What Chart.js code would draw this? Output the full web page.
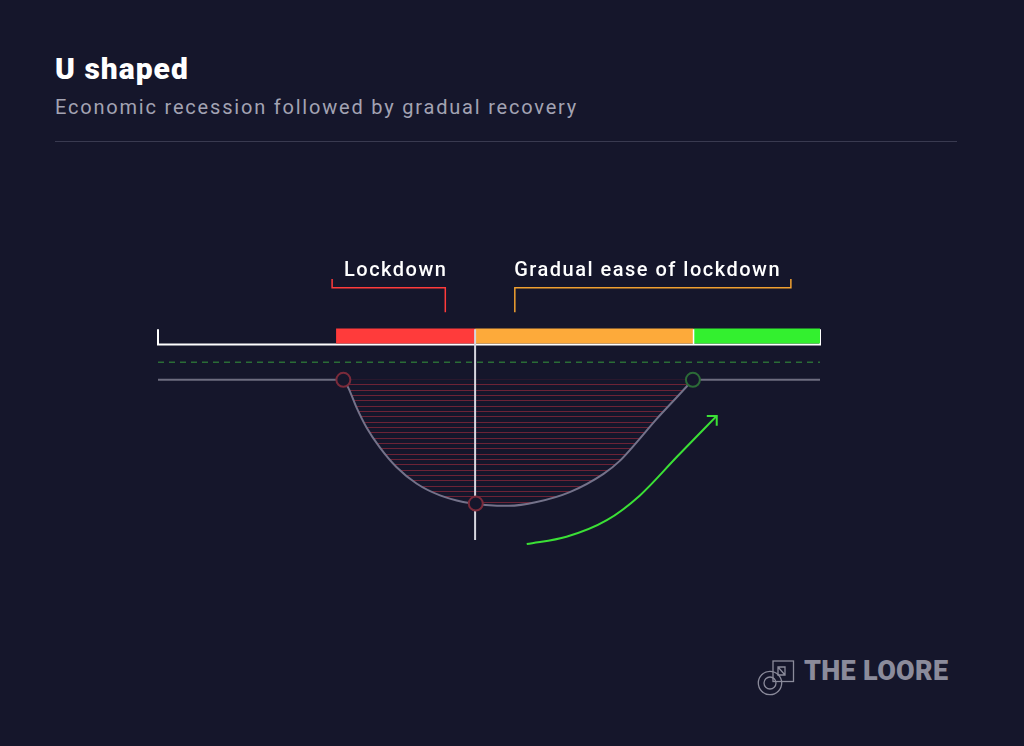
<!DOCTYPE html>
<html>
<head>
<meta charset="utf-8">
<title>U shaped</title>
<script src="https://cdn.jsdelivr.net/npm/chart.js@4.4.0/dist/chart.umd.min.js"></script>
<style>
    html, body { margin: 0; padding: 0; }
    body {
        width: 1024px; height: 746px; overflow: hidden; position: relative;
        background: #15162b; font-family: Roboto, "Liberation Sans", sans-serif;
    }
    .title { position: absolute; left: 55px; top: 54px; font: 900 30px/1 Roboto, sans-serif; letter-spacing: 1px; color: #ffffff; }
    .subtitle { position: absolute; left: 55px; top: 97px; font: 400 20px/1 Roboto, sans-serif; letter-spacing: 1.8px; color: #a3a3b3; }
    .rule { position: absolute; left: 55px; top: 141px; width: 902px; height: 1px; background: #393a50; }
    #chart { position: absolute; left: 148px; top: 251px; }
    .logo { position: absolute; left: 756px; top: 656px; }
    .logo-text { position: absolute; left: 804px; top: 658px; font: 900 27px/1 Roboto, sans-serif; color: #8b8b9b; letter-spacing: 0.3px; }
</style>
</head>
<body>

<div class="title">U shaped</div>
<div class="subtitle">Economic recession followed by gradual recovery</div>
<div class="rule"></div>

<canvas id="chart" width="682" height="309"></canvas>

<svg class="logo" width="42" height="42" viewBox="0 0 42 42" fill="none" stroke="#8b8b9b" stroke-width="1.3">
    <rect x="17" y="5" width="20.5" height="20.5"/>
    <circle cx="14" cy="27" r="11.7"/>
    <circle cx="14" cy="27" r="6"/>
    <path d="M22 11 L29 11 L29 19 L22 19 Z M22 11 L29 19"/>
</svg>
<div class="logo-text">THE LOORE</div>

<script>
// ---- Timeline (x = share of the period, 0..100) ----
const phaseStart = [26.9, 47.9, 80.9];
const phaseEnd   = [47.9, 80.9, 100];
const phaseColors = ['#ff3b3b', '#fdaa3a', '#33f02f'];
const barLevel = 6.95;

// ---- Output curve (y = change vs. pre-crisis level) ----
const curveX = [28.0, 28.75, 30.0, 31.5, 33.5, 36.05, 39.1, 42.6, 46.1, 49.5, 53.0, 57.2, 62.2, 67.3, 69.8, 72.3, 75.3, 78.3, 80.8];
const curveY = [0, -1.28, -4.43, -7.58, -10.73, -13.88, -16.49, -18.34, -19.39, -19.85, -20.0, -19.39, -17.82, -14.92, -12.82, -9.94, -6.25, -2.85, 0];

// ---- Recovery arrow ----
const arrowX = [55.7, 61.7, 67.8, 72.8, 78.5, 84.4];
const arrowY = [-26.06, -24.9, -22.27, -18.34, -12.1, -5.73];
const arrowHeadX = [82.9, 84.4, 84.4];
const arrowHeadY = [-5.73, -5.73, -7.3];

// ---- Markers ----
const markerX = [28.0, 48.0, 80.8];
const markerY = [0, -19.64, 0];
const markerColors = ['#7a2a3a', '#7a2a3a', '#2c6b37'];

// ---- Brackets + labels ----
const lockBracketX = [26.3, 26.3, 43.4, 43.4];
const lockBracketY = [16.0, 14.6, 14.6, 10.7];
const easeBracketX = [53.9, 53.9, 95.6, 95.6];
const easeBracketY = [10.7, 14.6, 14.6, 16.0];
const phaseLabels = ['Lockdown', 'Gradual ease of lockdown'];
const labelX = [28.1, 53.8];
const labelY = [16.45, 16.45];

const trendLevel = 2.8;
const splitX = 47.9;

const pts = (xs, ys) => xs.map((x, i) => ({ x: x, y: ys[i] }));

function hatchPattern() {
    const c = document.createElement('canvas');
    c.width = 8; c.height = 16;
    const g = c.getContext('2d');
    g.fillStyle = '#6c2336';
    [0, 5, 11].forEach(r => g.fillRect(0, r, 8, 1));
    return g.createPattern(c, 'repeat');
}

const labelPlugin = {
    id: 'phaseLabels',
    afterDatasetsDraw(chart) {
        const { ctx, scales: { x, y } } = chart;
        ctx.save();
        ctx.fillStyle = '#ffffff';
        ctx.font = '500 20px Roboto';
        ctx.letterSpacing = '1.5px';
        ctx.textBaseline = 'alphabetic';
        phaseLabels.forEach((t, i) => {
            ctx.fillText(t, x.getPixelForValue(labelX[i]), y.getPixelForValue(labelY[i]));
        });
        ctx.restore();
    }
};

const line = (data, color, width, order, extra = {}) => Object.assign({
    data: data, borderColor: color, borderWidth: width, order: order,
    showLine: true, pointRadius: 0, fill: false, clip: false, tension: 0
}, extra);

const datasets = [
    // markers on top
    { data: pts(markerX, markerY), order: 0, pointRadius: 7, pointBorderWidth: 2,
      pointBorderColor: markerColors, pointBackgroundColor: '#15162b', showLine: false, clip: false },
    line([{ x: splitX, y: 8.0 }, { x: splitX, y: -25.4 }], '#d6d6de', 2, 1),
    // timeline bar segments
    ...phaseStart.map((s, i) => line([{ x: s, y: barLevel }, { x: phaseEnd[i], y: barLevel }], phaseColors[i], 15, 3)),
    line([{ x: 80.9, y: 8.0 }, { x: 80.9, y: 5.6 }], '#ffffff', 1.5, 2),
    line([{ x: 0, y: 8.0 }, { x: 0, y: 5.6 }, { x: 100, y: 5.6 }, { x: 100, y: 8.0 }], '#ffffff', 2, 4),
    // brackets
    line(pts(lockBracketX, lockBracketY), '#ff3b3b', 1.5, 4),
    line(pts(easeBracketX, easeBracketY), '#f0a030', 1.5, 4),
    // trend + baseline
    line([{ x: 0, y: trendLevel }, { x: 100, y: trendLevel }], '#2a6c36', 1.5, 5, { borderDash: [6, 5] }),
    line([{ x: 0, y: 0 }, { x: 28.0, y: 0 }], '#6d6c7f', 2, 5),
    line([{ x: 80.8, y: 0 }, { x: 100, y: 0 }], '#6d6c7f', 2, 5),
    // U curve with hatched loss area
    line(pts(curveX, curveY), '#74728a', 2, 6, {
        fill: { value: 0 }, backgroundColor: hatchPattern(), cubicInterpolationMode: 'monotone'
    }),
    // recovery arrow
    line(pts(arrowX, arrowY), '#3be036', 2, 2, { cubicInterpolationMode: 'monotone' }),
    line(pts(arrowHeadX, arrowHeadY), '#3be036', 2, 2)
];

new Chart(document.getElementById('chart'), {
    type: 'scatter',
    data: { datasets: datasets },
    options: {
        responsive: false,
        animation: false,
        layout: { padding: { left: 10, right: 10, top: 7, bottom: 10 } },
        plugins: { legend: { display: false }, tooltip: { enabled: false } },
        scales: {
            x: { type: 'linear', min: 0, max: 100, display: false },
            y: { type: 'linear', min: -27, max: 19, display: false }
        }
    },
    plugins: [labelPlugin]
});
</script>
</body>
</html>
